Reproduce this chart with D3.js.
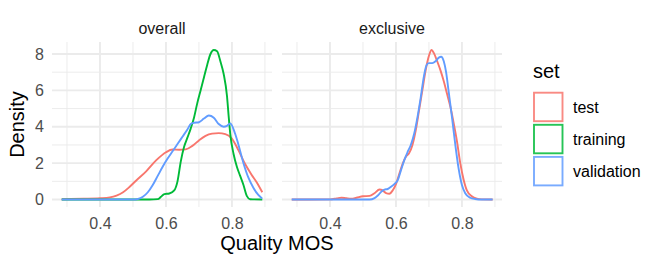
<!DOCTYPE html>
<html>
<head>
<meta charset="utf-8">
<script src="https://cdn.jsdelivr.net/npm/d3@7"></script>
<style>
  html, body { margin: 0; padding: 0; background: #fff; }
  svg { display: block; font-family: "Liberation Sans", Arial, Helvetica, sans-serif; }
</style>
</head>
<body>
<svg id="chart" width="664" height="266"></svg>
<script>
// ---- data ----
const panels = ["overall", "exclusive"];
const sets = ["test", "training", "validation"];
const setColors = ["#F8766D", "#00BA38", "#619CFF"];
const xTicks = [0.4, 0.6, 0.8];
const xMinor = [0.3, 0.5, 0.7, 0.9];
const yTicks = [0, 2, 4, 6, 8];
const yMinor = [1, 3, 5, 7];

// overall / test
const overallTestX = [0.284, 0.35, 0.40, 0.43, 0.45, 0.47, 0.49, 0.51, 0.54, 0.57, 0.60, 0.62, 0.64, 0.66, 0.68, 0.70, 0.72, 0.74, 0.76, 0.78, 0.80, 0.82, 0.84, 0.86, 0.875, 0.892];
const overallTestY = [0.02, 0.04, 0.07, 0.12, 0.22, 0.4, 0.7, 1.05, 1.55, 2.15, 2.6, 2.75, 2.74, 2.76, 2.95, 3.25, 3.5, 3.62, 3.65, 3.6, 3.35, 2.7, 1.95, 1.35, 0.95, 0.4];
// overall / training
const overallTrainX = [0.284, 0.55, 0.575, 0.585, 0.595, 0.61, 0.625, 0.635, 0.645, 0.655, 0.665, 0.675, 0.685, 0.695, 0.705, 0.715, 0.725, 0.735, 0.745, 0.755, 0.765, 0.775, 0.785, 0.79, 0.795, 0.805, 0.815, 0.825, 0.835, 0.845, 0.855, 0.892];
const overallTrainY = [0, 0, 0.02, 0.15, 0.3, 0.33, 0.5, 1.0, 2.1, 2.9, 3.4, 3.9, 4.5, 5.3, 6.0, 6.7, 7.4, 8.0, 8.22, 8.15, 7.6, 6.9, 5.7, 4.6, 3.6, 2.5, 1.8, 1.3, 0.8, 0.2, 0.02, 0];
// overall / validation
const overallValX = [0.284, 0.50, 0.515, 0.53, 0.545, 0.56, 0.575, 0.59, 0.605, 0.62, 0.635, 0.65, 0.665, 0.675, 0.685, 0.70, 0.715, 0.73, 0.745, 0.76, 0.775, 0.785, 0.795, 0.81, 0.82, 0.835, 0.85, 0.865, 0.88, 0.892];
const overallValY = [0, 0, 0.03, 0.15, 0.4, 0.8, 1.3, 1.8, 2.25, 2.65, 3.05, 3.45, 3.85, 4.15, 4.22, 4.25, 4.45, 4.62, 4.5, 4.15, 4.0, 4.05, 4.18, 3.6, 3.0, 2.0, 1.2, 0.65, 0.25, 0.05];
// exclusive / test
const exclTestX = [0.284, 0.40, 0.42, 0.435, 0.45, 0.465, 0.48, 0.50, 0.52, 0.535, 0.55, 0.56, 0.57, 0.58, 0.59, 0.60, 0.61, 0.62, 0.63, 0.64, 0.65, 0.66, 0.67, 0.68, 0.69, 0.70, 0.708, 0.715, 0.725, 0.735, 0.745, 0.755, 0.765, 0.775, 0.785, 0.795, 0.805, 0.815, 0.83, 0.845, 0.86, 0.893];
const exclTestY = [0, 0.01, 0.06, 0.1, 0.07, 0.05, 0.1, 0.18, 0.2, 0.35, 0.55, 0.5, 0.35, 0.32, 0.5, 0.85, 1.4, 1.95, 2.35, 2.55, 3.0, 3.8, 4.9, 6.0, 7.1, 7.9, 8.22, 8.05, 7.6, 7.1, 6.5, 5.8, 5.1, 4.2, 3.2, 2.0, 1.1, 0.5, 0.18, 0.05, 0.01, 0];
// exclusive / validation
const exclValX = [0.284, 0.52, 0.535, 0.545, 0.555, 0.565, 0.575, 0.585, 0.595, 0.605, 0.615, 0.625, 0.635, 0.645, 0.655, 0.665, 0.675, 0.685, 0.693, 0.70, 0.71, 0.72, 0.73, 0.737, 0.745, 0.752, 0.76, 0.77, 0.78, 0.79, 0.80, 0.81, 0.825, 0.84, 0.86, 0.893];
const exclValY = [0, 0, 0.08, 0.22, 0.42, 0.55, 0.58, 0.7, 0.85, 1.05, 1.6, 2.15, 2.6, 3.0, 3.6, 4.5, 5.6, 6.8, 7.4, 7.5, 7.5, 7.6, 7.8, 7.85, 7.6, 7.0, 5.9, 4.5, 3.0, 1.7, 0.8, 0.35, 0.1, 0.03, 0, 0];

const seriesList = [
  { panel: "overall", set: "test", xs: overallTestX, ys: overallTestY },
  { panel: "overall", set: "training", xs: overallTrainX, ys: overallTrainY },
  { panel: "overall", set: "validation", xs: overallValX, ys: overallValY },
  { panel: "exclusive", set: "test", xs: exclTestX, ys: exclTestY },
  { panel: "exclusive", set: "validation", xs: exclValX, ys: exclValY }
];

// ---- layout ----
const svg = d3.select("#chart");
const panelTop = 42, panelBottom = 207;
const panelRanges = { overall: [52, 272], exclusive: [282, 502] };
const xDomain = [0.2545, 0.9215];
const y = d3.scaleLinear().domain([-0.41, 8.66]).range([panelBottom, panelTop]);
const color = d3.scaleOrdinal().domain(sets).range(setColors);
const grid = "#ebebeb";
const textGrey = "#4d4d4d";

const xScales = {};
panels.forEach(p => {
  const x = d3.scaleLinear().domain(xDomain).range(panelRanges[p]);
  xScales[p] = x;
  const g = svg.append("g");
  const [x0, x1] = panelRanges[p];
  // minor grid
  g.selectAll(".ymin").data(yMinor).enter().append("line")
    .attr("x1", x0).attr("x2", x1).attr("y1", d => y(d)).attr("y2", d => y(d))
    .attr("stroke", grid).attr("stroke-width", 0.95);
  g.selectAll(".xmin").data(xMinor).enter().append("line")
    .attr("y1", panelTop).attr("y2", panelBottom).attr("x1", d => x(d)).attr("x2", d => x(d))
    .attr("stroke", grid).attr("stroke-width", 0.95);
  // major grid
  g.selectAll(".ymaj").data(yTicks).enter().append("line")
    .attr("x1", x0).attr("x2", x1).attr("y1", d => y(d)).attr("y2", d => y(d))
    .attr("stroke", grid).attr("stroke-width", 1.9);
  g.selectAll(".xmaj").data(xTicks).enter().append("line")
    .attr("y1", panelTop).attr("y2", panelBottom).attr("x1", d => x(d)).attr("x2", d => x(d))
    .attr("stroke", grid).attr("stroke-width", 1.9);
  // x axis ticks labels
  const ax = d3.axisBottom(x).tickValues(xTicks).tickSize(0).tickPadding(0).tickFormat(d3.format(".1f"));
  const axg = svg.append("g").attr("transform", `translate(0,${panelBottom})`).call(ax);
  axg.select(".domain").remove();
  axg.selectAll("text").attr("font-size", 16).attr("fill", textGrey)
    .attr("dy", 0).attr("y", 21.5).attr("font-family", "Liberation Sans, Arial, sans-serif");
  // strip
  svg.append("text").attr("x", (x0 + x1) / 2).attr("y", 34).attr("text-anchor", "middle")
    .attr("font-size", 16).attr("fill", "#1a1a1a").text(p);
});

// y axis labels (left panel only)
const ay = d3.axisLeft(y).tickValues(yTicks).tickSize(0).tickPadding(0).tickFormat(d3.format("d"));
const ayg = svg.append("g").attr("transform", `translate(44,0)`).call(ay);
ayg.select(".domain").remove();
ayg.selectAll("text").attr("font-size", 16).attr("fill", textGrey).attr("x", 0)
  .attr("font-family", "Liberation Sans, Arial, sans-serif");

// density lines
const line = d3.line().curve(d3.curveMonotoneX);
seriesList.forEach(s => {
  const x = xScales[s.panel];
  const pts = s.xs.map((v, i) => [x(v), y(s.ys[i])]);
  svg.append("path").attr("d", line(pts)).attr("fill", "none")
    .attr("stroke", color(s.set)).attr("stroke-width", 1.9).attr("stroke-linejoin", "round");
});

// axis titles
svg.append("text").attr("x", 277).attr("y", 250).attr("text-anchor", "middle")
  .attr("font-size", 20).attr("fill", "#000").text("Quality MOS");
svg.append("text").attr("transform", "translate(24,124.5) rotate(-90)").attr("text-anchor", "middle")
  .attr("font-size", 20).attr("fill", "#000").text("Density");

// legend
const lg = svg.append("g");
lg.append("text").attr("x", 533).attr("y", 78).attr("font-size", 20).attr("fill", "#000").text("set");
sets.forEach((s, i) => {
  const ky = 91.7 + i * 32.1;
  lg.append("rect").attr("x", 534).attr("y", ky + 1).attr("width", 28.5).attr("height", 28.5)
    .attr("fill", "#fff").attr("stroke", color(s)).attr("stroke-width", 1.9).attr("stroke-opacity", 0.85);
  lg.append("text").attr("x", 573).attr("y", ky + 15.25).attr("dy", "0.35em")
    .attr("font-size", 16).attr("fill", "#000").text(s);
});
</script>
</body>
</html>
